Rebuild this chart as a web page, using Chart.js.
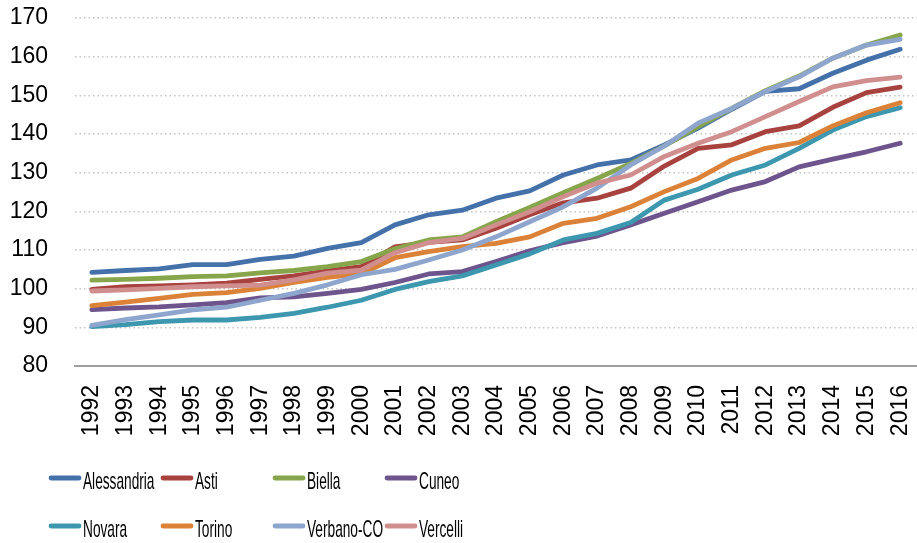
<!DOCTYPE html>
<html>
<head>
<meta charset="utf-8">
<script src="https://cdn.jsdelivr.net/npm/chart.js@4.4.1/dist/chart.umd.min.js"></script>
<style>
html,body{margin:0;padding:0;background:#fff;}
#wrap{width:917px;height:543px;position:relative;}
</style>
</head>
<body>
<div id="wrap"><canvas id="c"></canvas></div>
<script>
const years = ['1992','1993','1994','1995','1996','1997','1998','1999','2000','2001','2002','2003','2004','2005','2006','2007','2008','2009','2010','2011','2012','2013','2014','2015','2016'];
const seriesNames = ['Alessandria','Asti','Biella','Cuneo','Novara','Torino','Verbano-CO','Vercelli'];
const alessandria = [104.2,104.7,105.1,106.2,106.2,107.6,108.4,110.4,111.9,116.5,119.1,120.3,123.4,125.3,129.4,132.0,133.3,137.2,141.5,146.4,151.0,151.7,155.7,159.1,161.9];
const asti        = [99.8,100.5,100.7,101.0,101.4,102.4,103.3,104.6,105.7,110.8,112.0,112.6,115.6,119.1,122.2,123.4,126.0,131.7,136.3,137.2,140.6,142.1,146.9,150.7,152.1];
const biella      = [102.2,102.4,102.7,103.1,103.3,104.1,104.7,105.7,107.0,110.3,112.6,113.4,117.3,121.0,124.8,128.5,132.4,136.9,141.9,146.6,151.2,155.0,159.6,163.0,165.6];
const cuneo       = [94.6,95.0,95.3,95.8,96.4,97.6,97.9,98.8,99.8,101.6,103.8,104.4,107.0,109.8,111.9,113.6,116.5,119.5,122.5,125.5,127.7,131.5,133.5,135.4,137.6];
const novara      = [90.2,90.7,91.5,91.9,91.9,92.6,93.6,95.2,97.0,99.8,101.8,103.3,106.1,109.0,112.6,114.3,117.1,122.9,125.7,129.4,132.0,136.3,141.0,144.5,146.8];
const torino      = [95.6,96.5,97.5,98.5,99.0,100.1,101.6,102.9,103.8,108.0,109.6,110.9,111.7,113.4,116.9,118.2,121.2,125.1,128.5,133.3,136.3,137.8,142.1,145.5,148.1];
const verbano     = [90.5,92.0,93.2,94.5,95.2,97.0,98.8,101.0,103.6,105.0,107.4,110.0,113.4,117.3,121.2,126.0,132.0,136.9,142.8,146.6,151.0,154.8,159.6,163.0,164.5];
const vercelli    = [99.4,99.7,100.1,100.5,100.7,100.9,102.3,104.0,104.8,109.3,111.9,113.0,116.5,119.9,123.8,127.3,129.4,134.2,137.6,140.6,144.5,148.4,152.2,153.8,154.7];
const yTicks = [80,90,100,110,120,130,140,150,160,170];

const allSeries = [alessandria, asti, biella, cuneo, novara, torino, verbano, vercelli];
const colors = ['#4471A9','#A8423F','#87A54A','#6E548D','#3D97AF','#DB8238','#8EA6CD','#D08F8E'];

const datasets = allSeries.map((d, i) => ({
  label: seriesNames[i],
  data: d,
  borderColor: colors[i],
  backgroundColor: colors[i],
  borderWidth: 4.8,
  pointRadius: 0,
  tension: 0,
  fill: false,
  borderCapStyle: 'round',
  borderJoinStyle: 'round',
  order: allSeries.length - i
}));

const legendPlugin = {
  id: 'gridLegend',
  afterDraw(chart) {
    const ctx = chart.ctx;
    const ds = chart.data.datasets;
    ctx.save();
    ds.forEach((d, i) => {
      const col = i % 4, row = Math.floor(i / 4);
      const x = 49 + col * 112;
      const y = 478 + row * 48;
      ctx.strokeStyle = d.borderColor;
      ctx.lineWidth = 4.8;
      ctx.lineCap = 'round';
      ctx.beginPath();
      ctx.moveTo(x + 2, y);
      ctx.lineTo(x + 30, y);
      ctx.stroke();
      ctx.save();
      ctx.translate(x + 34, y + 11);
      ctx.scale(0.57, 1);
      ctx.fillStyle = '#000';
      ctx.font = '24px "Liberation Sans", Arial, sans-serif';
      ctx.textAlign = 'left';
      ctx.textBaseline = 'alphabetic';
      ctx.fillText(d.label, 0, 0);
      ctx.restore();
    });
    ctx.restore();
  }
};

new Chart(document.getElementById('c'), {
  type: 'line',
  data: { labels: years, datasets },
  options: {
    responsive: true,
    maintainAspectRatio: false,
    animation: false,
    devicePixelRatio: 1,
    layout: { padding: { top: 18, right: -6, left: 0, bottom: 0 } },
    plugins: { legend: { display: false }, tooltip: { enabled: false } },
    scales: {
      x: {
        type: 'category',
        offset: true,
        grid: { display: false, drawTicks: false, tickLength: 0 },
        border: { display: true, color: '#A0A0A0', width: 2 },
        ticks: {
          minRotation: 90, maxRotation: 90, autoSkip: false,
          padding: 19, color: '#000',
          font: { family: '"Liberation Sans", Arial, sans-serif', size: 23 }
        },
        afterFit(s) { s.height = 177; s.paddingLeft = 0; s.paddingRight = 0; }
      },
      y: {
        min: 80, max: 170,
        afterBuildTicks(s) { s.ticks = yTicks.map(v => ({ value: v })); },
        grid: { color: '#C4C4C4', lineWidth: 1.5, drawTicks: false, tickLength: 0 },
        border: { display: false, dash: [1.5, 3] },
        ticks: {
          padding: 27, color: '#000',
          font: { family: '"Liberation Sans", Arial, sans-serif', size: 23 }
        },
        afterFit(s) { s.width = 75; s.paddingTop = 0; s.paddingBottom = 0; }
      }
    }
  },
  plugins: [legendPlugin]
});
</script>
</body>
</html>
